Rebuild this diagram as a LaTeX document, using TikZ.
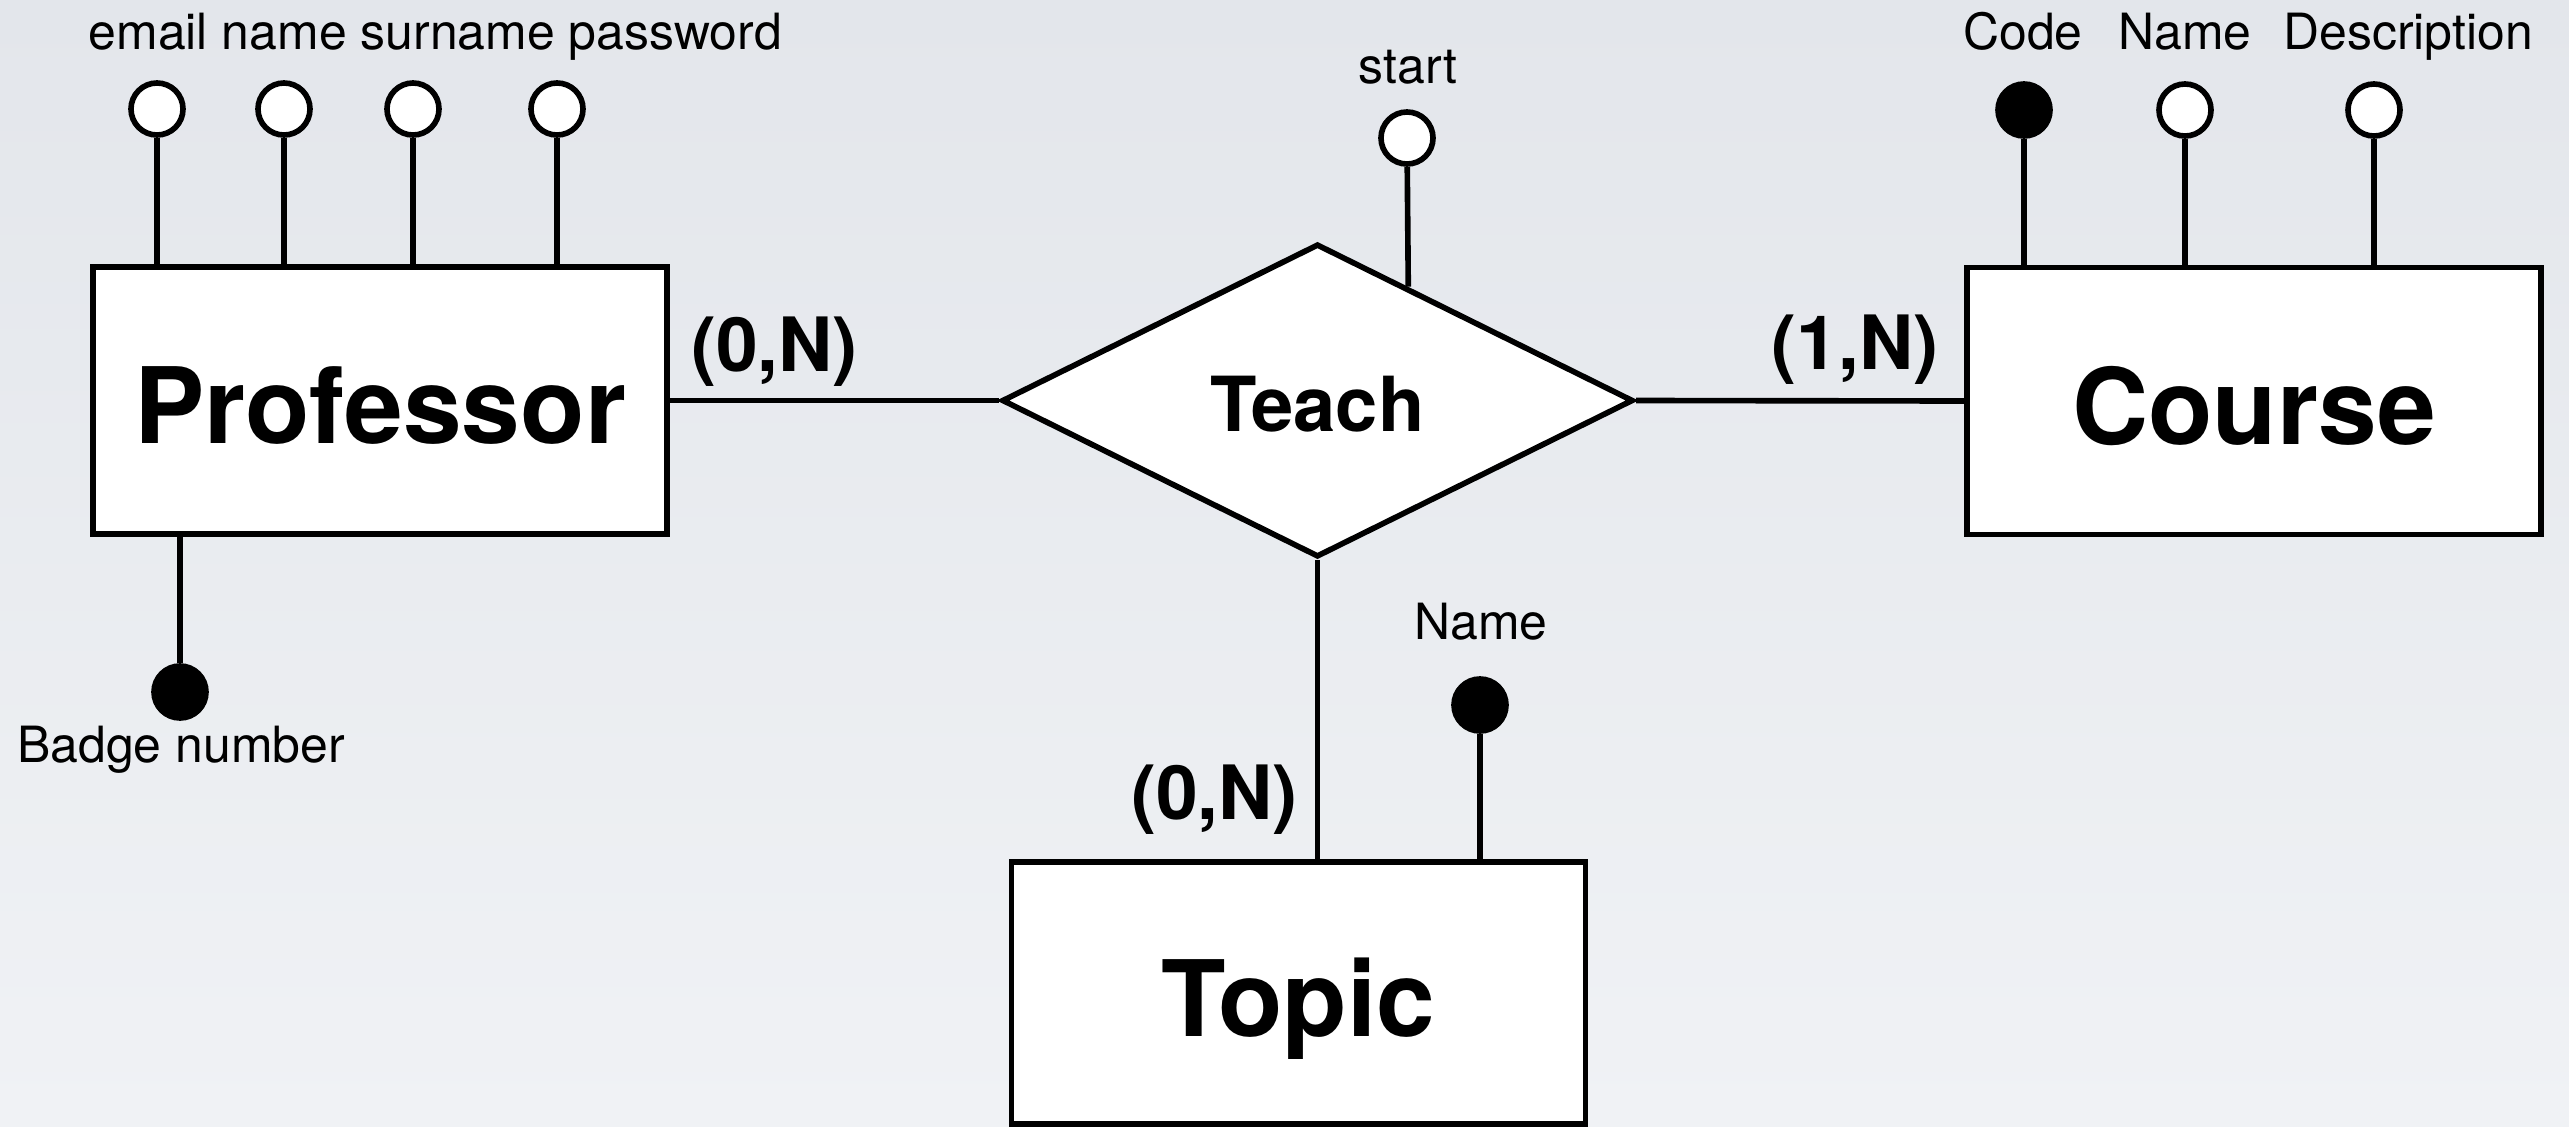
\documentclass[tikz,border=0pt]{standalone}
\usepackage{fontspec}
\setmainfont{TeX Gyre Heros}
\usetikzlibrary{shapes.geometric,calc}
\definecolor{bgtop}{RGB}{227,230,235}
\definecolor{bgbot}{RGB}{240,242,245}
\begin{document}
\begin{tikzpicture}[x=0.01cm,y=-0.01cm,
  er/.style={line width=1.6pt},
  entity/.style={er, draw, fill=white, inner sep=0pt, minimum width=5.74cm,
    minimum height=2.67cm, font=\fontsize{30}{36}\selectfont\bfseries,
    text height=0.86cm, text depth=0pt},
  relation/.style={er, draw, fill=white, diamond, inner sep=0pt,
    minimum width=6.31cm, minimum height=3.13cm,
    font=\fontsize{21.6}{26}\selectfont\bfseries, text height=0.61cm, text depth=0pt},
  attr/.style={er, draw, circle, fill=white, inner sep=0pt, minimum size=0.52cm},
  keyattr/.style={attr, fill=black},
  attrlabel/.style={anchor=base, inner sep=0pt, font=\fontsize{14.2}{17}\selectfont},
  card/.style={anchor=base, inner sep=0pt, font=\fontsize{21.3}{26}\selectfont\bfseries},
  link/.style={er}
]
% background
\fill[top color=bgtop, bottom color=bgbot] (0,0) rectangle (2569,1127);
\useasboundingbox (0,0) rectangle (2569,1127);

% entities and relationship
\node[entity] (prof) at (380,400.5) {Professor};
\node[entity] (course) at (2254,401) {Course};
\node[entity, minimum height=2.62cm] (topic) at (1298.5,993) {Topic};
\node[relation] (teach) at (1317.5,400.5) {Teach};

% Professor attributes
\node[attr] (email) at (157,109) {};
\node[attr] (pname) at (284,109) {};
\node[attr] (psurname) at (413,109) {};
\node[attr] (ppass) at (557,109) {};
\node[attrlabel, anchor=base west] (proflabels) at (88,50) {email name surname password};
\node[keyattr] (badge) at (180,692) {};
\node[attrlabel] (badgelabel) at (181,762) {Badge number};

% Teach attribute
\node[attr] (start) at (1407,138) {};
\node[attrlabel] (startlabel) at (1408,83) {start};
\coordinate (startfoot) at ($(teach.north)!0.285!(teach.east)$);

% Course attributes
\node[keyattr] (code) at (2024,110) {};
\node[attr] (cname) at (2185,110) {};
\node[attr] (cdesc) at (2374,110) {};
\node[attrlabel] (codelabel) at (2023,50) {Code};
\node[attrlabel] (cnamelabel) at (2185,50) {Name};
\node[attrlabel] (cdesclabel) at (2408,50) {Description};

% Topic attribute
\node[keyattr] (tname) at (1480,705) {};
\node[attrlabel] (tnamelabel) at (1481,639) {Name};

% cardinalities
\node[card] (cprof) at (774.5,371) {(0,N)};
\node[card] (ccourse) at (1855,369) {(1,N)};
\node[card] (ctopic) at (1214.5,819) {(0,N)};

% connectors
\draw[link] (prof.east) -- (teach.west);
\draw[link] (teach.east) -- (course.west);
\draw[link] (teach.south) -- (teach.south |- topic.north);
\foreach \a in {email,pname,psurname,ppass}
  \draw[link] (\a) -- (\a |- prof.north);
\draw[link] (badge) -- (badge |- prof.south);
\draw[link] (start) -- (startfoot);
\foreach \a in {code,cname,cdesc}
  \draw[link] (\a) -- (\a |- course.north);
\draw[link] (tname) -- (tname |- topic.north);
\end{tikzpicture}
\end{document}
